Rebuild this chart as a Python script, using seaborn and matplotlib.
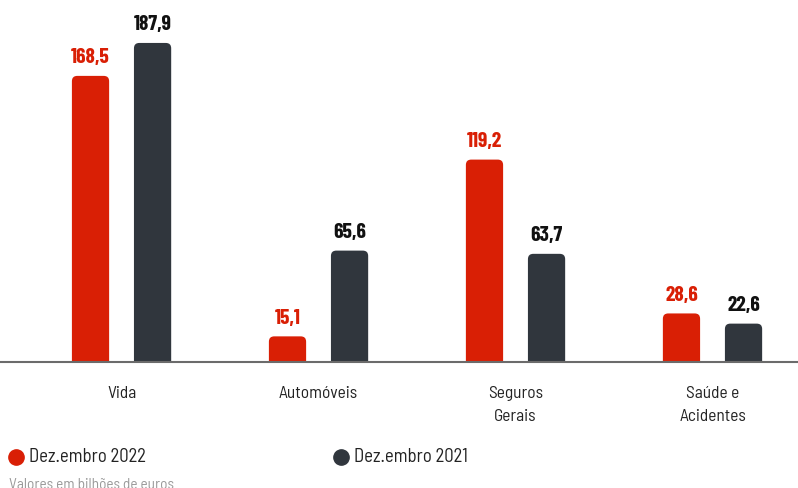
import matplotlib
matplotlib.use("Agg")
import matplotlib.pyplot as plt
from matplotlib.patches import FancyBboxPatch
from matplotlib.lines import Line2D
import seaborn as sns
import pandas as pd

categories = ["Vida", "Automóveis", "Seguros\nGerais", "Saúde e\nAcidentes"]
series_names = ["Dez.embro 2022", "Dez.embro 2021"]
values_2022 = [168.5, 15.1, 119.2, 28.6]
values_2021 = [187.9, 65.6, 63.7, 22.6]
value_labels_2022 = ["168,5", "15,1", "119,2", "28,6"]
value_labels_2021 = ["187,9", "65,6", "63,7", "22,6"]
caption = "Valores em bilhões de euros"

RED = "#D91F05"
DARK = "#30363D"

df = pd.DataFrame({
    "cat": categories * 2,
    "serie": [series_names[0]] * 4 + [series_names[1]] * 4,
    "valor": values_2022 + values_2021,
})

sns.set_theme(style="white")
plt.rcParams["font.family"] = ["Barlow Semi Condensed", "Roboto", "DejaVu Sans"]

fig = plt.figure(figsize=(7.98, 4.88), dpi=100)
ax = fig.add_axes([0, 1 - 362 / 488, 1, 362 / 488])

sns.barplot(data=df, x="cat", y="valor", hue="serie", hue_order=series_names,
            palette=[RED, DARK], width=0.63, gap=0.40, legend=False, ax=ax,
            saturation=1, errorbar=None)

ax.set_xlim(-0.617, 3.434)
ax.set_ylim(0, 362 / 1.698)

# rounded tops
aspect = 197 / 1.698
patches = list(ax.patches)
for p in patches:
    x, y = p.get_x(), p.get_y()
    w, h = p.get_width(), p.get_height()
    fc = p.get_facecolor()
    p.remove()
    r = 0.027
    fb = FancyBboxPatch((x, y - 10), w, h + 10,
                        boxstyle=f"round,pad=0,rounding_size={r}",
                        mutation_aspect=aspect, facecolor=fc, edgecolor="none",
                        clip_on=True)
    ax.add_patch(fb)

val_font = dict(family=["Barlow Condensed", "DejaVu Sans"], weight=700,
                fontsize=15.5)
for i, cat in enumerate(categories):
    for j, (vals, labs, col) in enumerate([(values_2022, value_labels_2022, "#D91F05"),
                                           (values_2021, value_labels_2021, "#111111")]):
        xc = i + (-0.157 if j == 0 else 0.157)
        ax.annotate(labs[i], (xc, vals[i]), xytext=(0, 9.0), textcoords="offset points",
                    ha="center", va="baseline", color=col, **val_font)

for s in ["top", "right", "left"]:
    ax.spines[s].set_visible(False)
ax.spines["bottom"].set_color("#6b6b6b")
ax.spines["bottom"].set_linewidth(1.5)
ax.set_yticks([])
ax.set_xlabel("")
ax.set_ylabel("")
ax.tick_params(axis="x", length=0, pad=17, labelsize=12.5, labelcolor="#222222")
for t in ax.get_xticklabels():
    t.set_linespacing(1.7)

# legend
ly = 1 - 457 / 488
fig.add_artist(Line2D([16 / 798], [ly], marker="o", markersize=11,
                      color=RED, linestyle="none", transform=fig.transFigure))
fig.add_artist(Line2D([341 / 798], [ly], marker="o", markersize=11,
                      color=DARK, linestyle="none", transform=fig.transFigure))
fig.text(29 / 798, ly, series_names[0], ha="left", va="center",
         fontsize=13.5, color="#222222")
fig.text(354 / 798, ly, series_names[1], ha="left", va="center",
         fontsize=13.5, color="#222222")
fig.text(9 / 798, 1 - 485 / 488, caption, ha="left", va="center",
         fontsize=11, color="#9a9a9a")

fig.savefig("out.png", dpi=100)
